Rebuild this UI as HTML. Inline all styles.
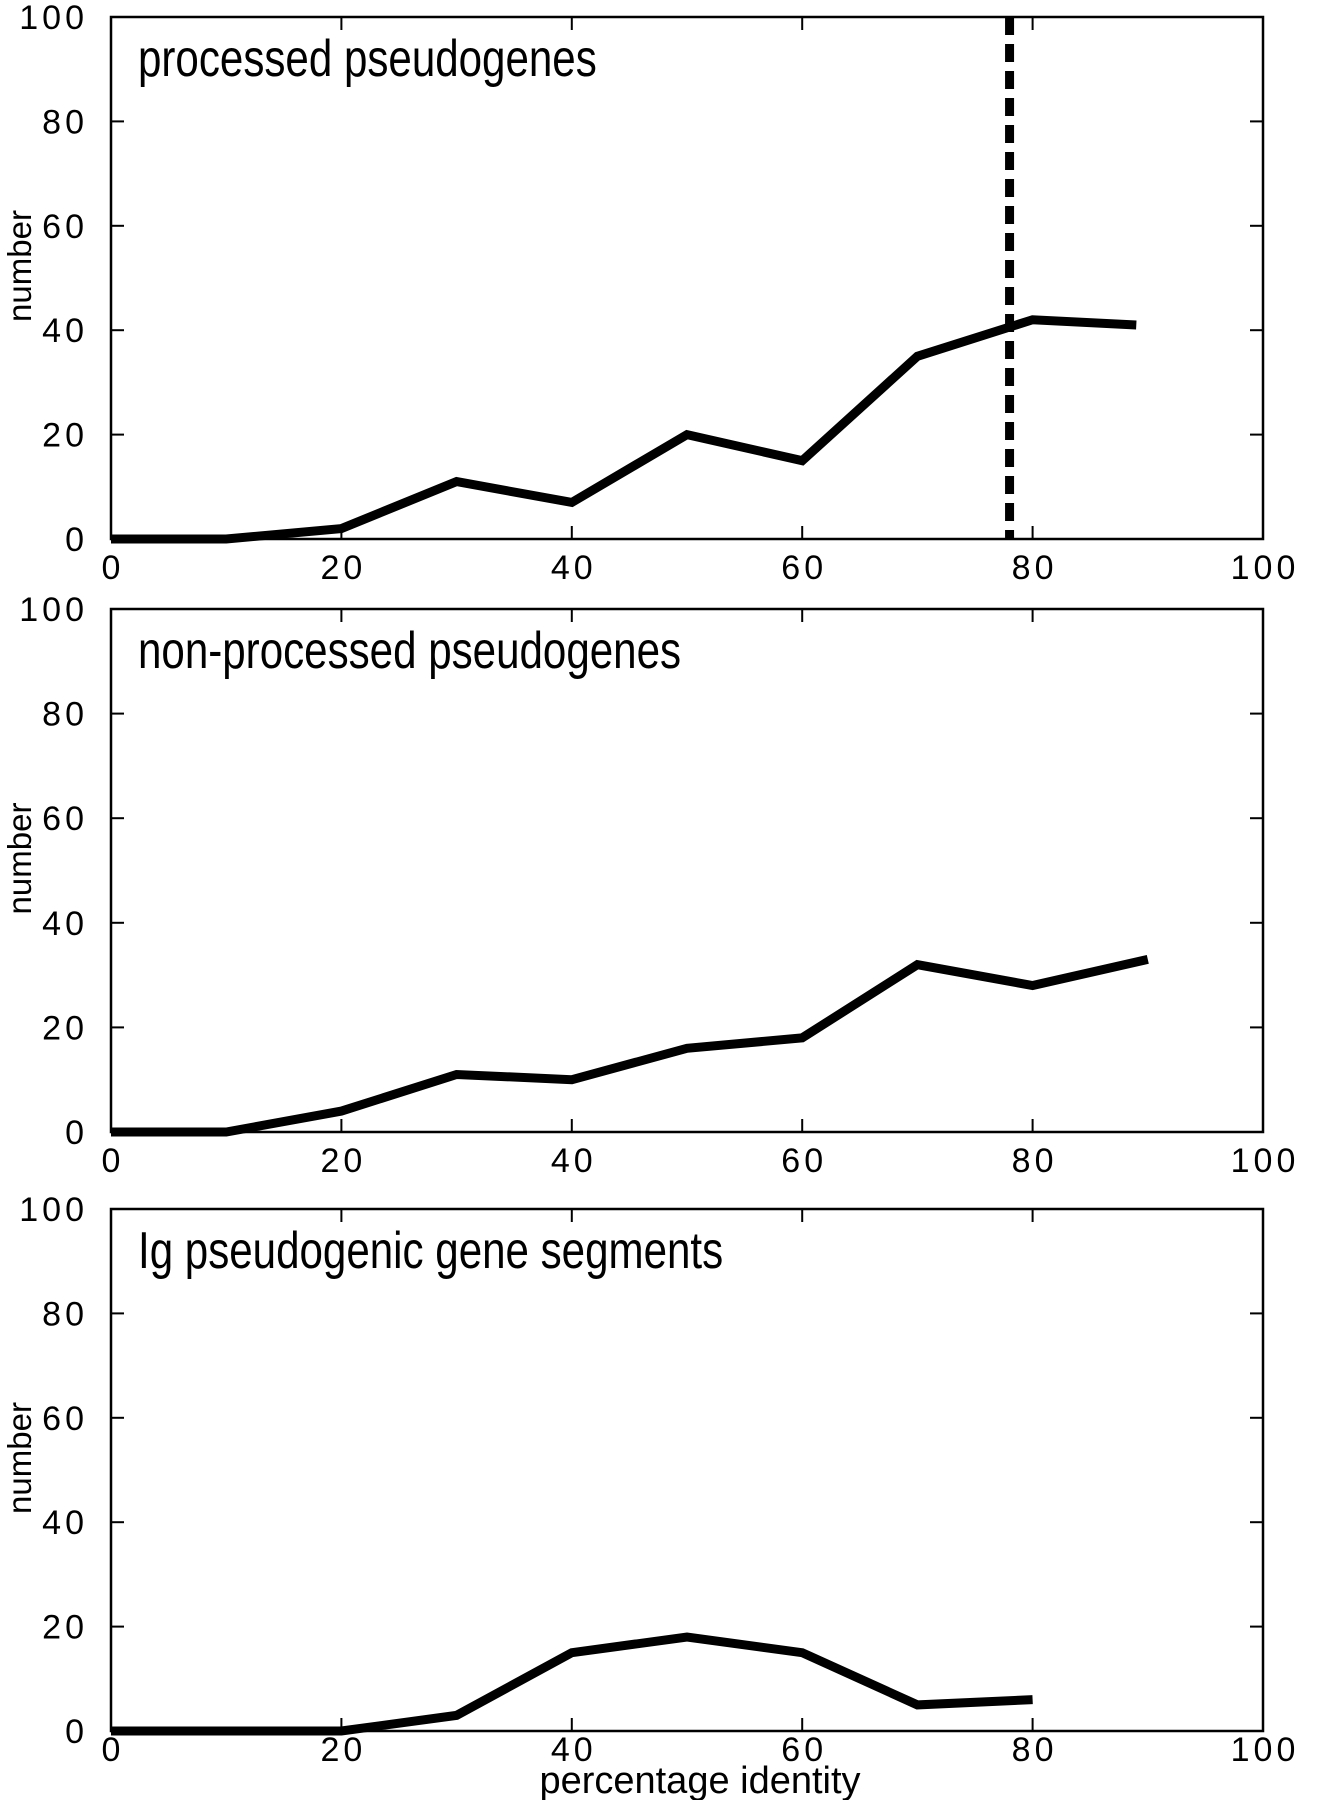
<!DOCTYPE html>
<html><head><meta charset="utf-8"><style>
body{margin:0;background:#fff}
svg{display:block}
text{font-family:"Liberation Sans",sans-serif;fill:#000}
.tick{font-size:34px;letter-spacing:4px}
.title{font-size:52px}
</style></head><body>
<svg id="fig" width="1317" height="1800" viewBox="0 0 1317 1800"></svg>
<script>
const xTicks=[0,20,40,60,80,100];
const yTicks=[0,20,40,60,80,100];
const titles=["processed pseudogenes","non-processed pseudogenes","Ig pseudogenic gene segments"];
const xValsA=[0,10,20,30,40,50,60,70,80,89];
const yValsA=[0,0,2,11,7,20,15,35,42,41];
const xValsB=[0,10,20,30,40,50,60,70,80,90];
const yValsB=[0,0,4,11,10,16,18,32,28,33];
const xValsC=[0,10,20,30,40,50,60,70,80];
const yValsC=[0,0,0,3,15,18,15,5,6];
const dashedX=78;
const NS="http://www.w3.org/2000/svg";
const svg=document.getElementById('fig');
const L=111,R=1263;
const panels=[{top:17,bot:539,xs:xValsA,ys:yValsA,name:'processed',lab:40},{top:609,bot:1132,xs:xValsB,ys:yValsB,name:'non-processed',lab:40},{top:1209,bot:1731,xs:xValsC,ys:yValsC,name:'ig-segments',lab:30}];
function mk(tag,attrs,parent){const e=document.createElementNS(NS,tag);for(const k in attrs)e.setAttribute(k,attrs[k]);(parent||svg).appendChild(e);return e;}
panels.forEach((p,i)=>{
  const g=mk('g',{});
  
  
  const sx=v=>L+(R-L)*v/100, sy=v=>p.bot-(p.bot-p.top)*v/100;
  const fr=mk('rect',{x:L,y:p.top,width:R-L,height:p.bot-p.top,fill:'none',stroke:'#000','stroke-width':2.5},g);
  
  
  yTicks.forEach(v=>{
    mk('line',{x1:L,x2:L+13,y1:sy(v),y2:sy(v),stroke:'#000','stroke-width':2},g);
    mk('line',{x1:R,x2:R-13,y1:sy(v),y2:sy(v),stroke:'#000','stroke-width':2},g);
    const t=mk('text',{x:88,y:sy(v)+12,'text-anchor':'end',class:'tick'},g);
    t.textContent=v;
    
    
  });
  xTicks.forEach(v=>{
    mk('line',{x1:sx(v),x2:sx(v),y1:p.bot,y2:p.bot-13,stroke:'#000','stroke-width':2},g);
    mk('line',{x1:sx(v),x2:sx(v),y1:p.top,y2:p.top+13,stroke:'#000','stroke-width':2},g);
    const t=mk('text',{x:sx(v)+2,y:p.bot+p.lab,'text-anchor':'middle',class:'tick'},g);
    t.textContent=v;
    
    
  });
  const ty=p.top+59;
  const tt=mk('text',{x:0,y:0,class:'title',transform:'translate(138 '+ty+') scale(0.81 1)'},g);
  tt.textContent=titles[i];
  
  
  const yl=mk('text',{x:0,y:0,'text-anchor':'middle',transform:'translate(31 '+((p.top+p.bot)/2-12)+') rotate(-90)','font-size':33},g);
  yl.textContent='number';
  
  
  const pts=p.xs.map((x,j)=>sx(x)+','+sy(p.ys[j])).join(' ');
  const pl=mk('polyline',{points:pts,fill:'none',stroke:'#000','stroke-width':9,'stroke-linejoin':'miter'},g);
  
  
  if(i===0){
    const d=mk('line',{x1:sx(dashedX),x2:sx(dashedX),y1:p.top,y2:p.bot,stroke:'#000','stroke-width':9,'stroke-dasharray':'18 9'},g);
    
    
  }
});
const xl=mk('text',{x:700,y:1793,'text-anchor':'middle','font-size':38});
xl.textContent='percentage identity';


</script>
</body></html>
